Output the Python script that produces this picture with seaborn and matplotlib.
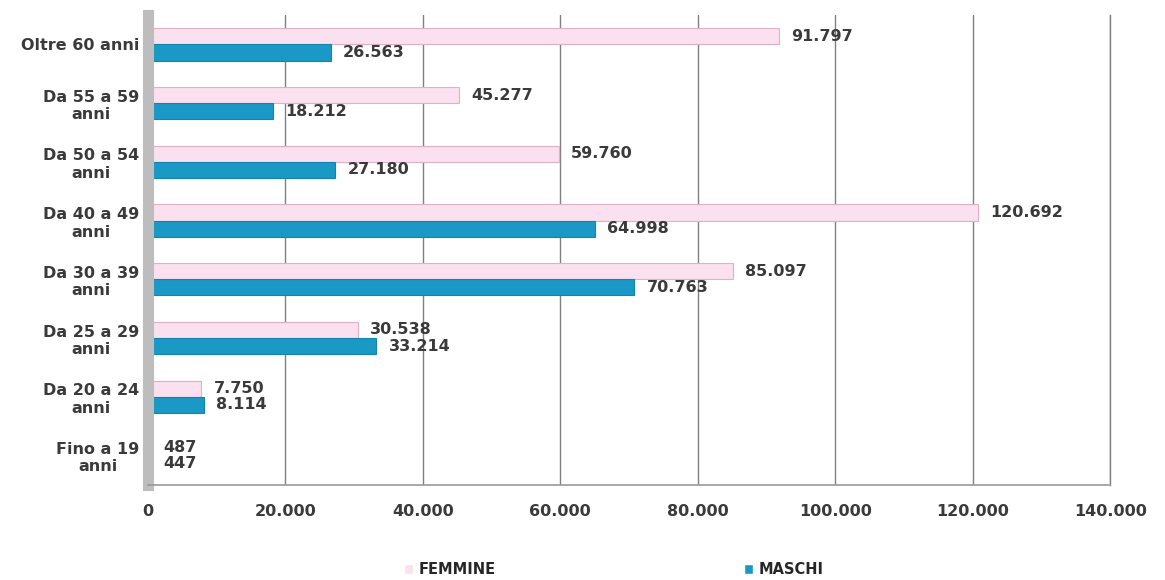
import matplotlib
matplotlib.use("Agg")
import matplotlib.pyplot as plt
import seaborn as sns
import pandas as pd

categories = ["Oltre 60 anni", "Da 55 a 59\nanni", "Da 50 a 54\nanni", "Da 40 a 49\nanni",
              "Da 30 a 39\nanni", "Da 25 a 29\nanni", "Da 20 a 24\nanni", "Fino a 19\nanni"]
femmine = [91797, 45277, 59760, 120692, 85097, 30538, 7750, 487]
maschi = [26563, 18212, 27180, 64998, 70763, 33214, 8114, 447]
series = ["FEMMINE", "MASCHI"]
xticks = [0, 20000, 40000, 60000, 80000, 100000, 120000, 140000]

def fmt(v):
    return f"{int(v):,}".replace(",", ".")

df = pd.DataFrame({
    "cat": categories * 2,
    "val": femmine + maschi,
    "ser": [series[0]] * len(categories) + [series[1]] * len(categories),
})

sns.set_theme(style="white")
plt.rcParams["font.family"] = ["DejaVu Sans"]

fig = plt.figure(figsize=(11.65, 5.8), dpi=100)
ax = fig.add_axes([0.127, 0.164, 0.826, 0.81])

pal = {"FEMMINE": "#fbe0f0", "MASCHI": "#1a98c6"}
sns.barplot(data=df, y="cat", x="val", hue="ser", order=categories, hue_order=series,
            palette=pal, orient="h", width=0.55, ax=ax, legend=True, saturation=1)

for i, cont in enumerate(ax.containers):
    for p in cont.patches:
        if i == 0:
            p.set_edgecolor("#e0b0c6")
        else:
            p.set_edgecolor("#1584ad")
        p.set_linewidth(0.8)
    ax.bar_label(cont, labels=[fmt(v) for v in (femmine if i == 0 else maschi)],
                 padding=9, fontsize=11.5, fontweight="bold", color="#3a3a3a")

ax.set_xlim(0, 140000)
ax.set_xticks(xticks)
ax.set_xticklabels([fmt(v) for v in xticks], fontsize=11.5, fontweight="bold", color="#3a3a3a")
ax.tick_params(axis="x", pad=14, length=0)
ax.tick_params(axis="y", length=0, pad=6)
for t in ax.get_yticklabels():
    t.set_fontsize(11.5)
    t.set_fontweight("bold")
    t.set_color("#3a3a3a")
    t.set_multialignment("center")
ax.set_xlabel("")
ax.set_ylabel("")
ax.xaxis.grid(True, color="#808080", linewidth=1)
ax.set_axisbelow(True)
ax.spines["top"].set_visible(False)
ax.spines["right"].set_color("#808080")
ax.spines["right"].set_linewidth(1)
ax.spines["left"].set_color("#bdbdbd")
ax.spines["left"].set_linewidth(8)
ax.spines["bottom"].set_color("#999999")
ax.spines["bottom"].set_linewidth(1.2)

leg = ax.get_legend()
handles = leg.legend_handles
leg.remove()
fig.legend(handles, series, loc="center", bbox_to_anchor=(0.527, 0.018), ncol=2, frameon=False,
           prop={"weight": "bold", "size": 10.5}, handlelength=0.6, handleheight=0.6,
           columnspacing=17, handletextpad=0.4)

fig.savefig("out.png", dpi=100)
